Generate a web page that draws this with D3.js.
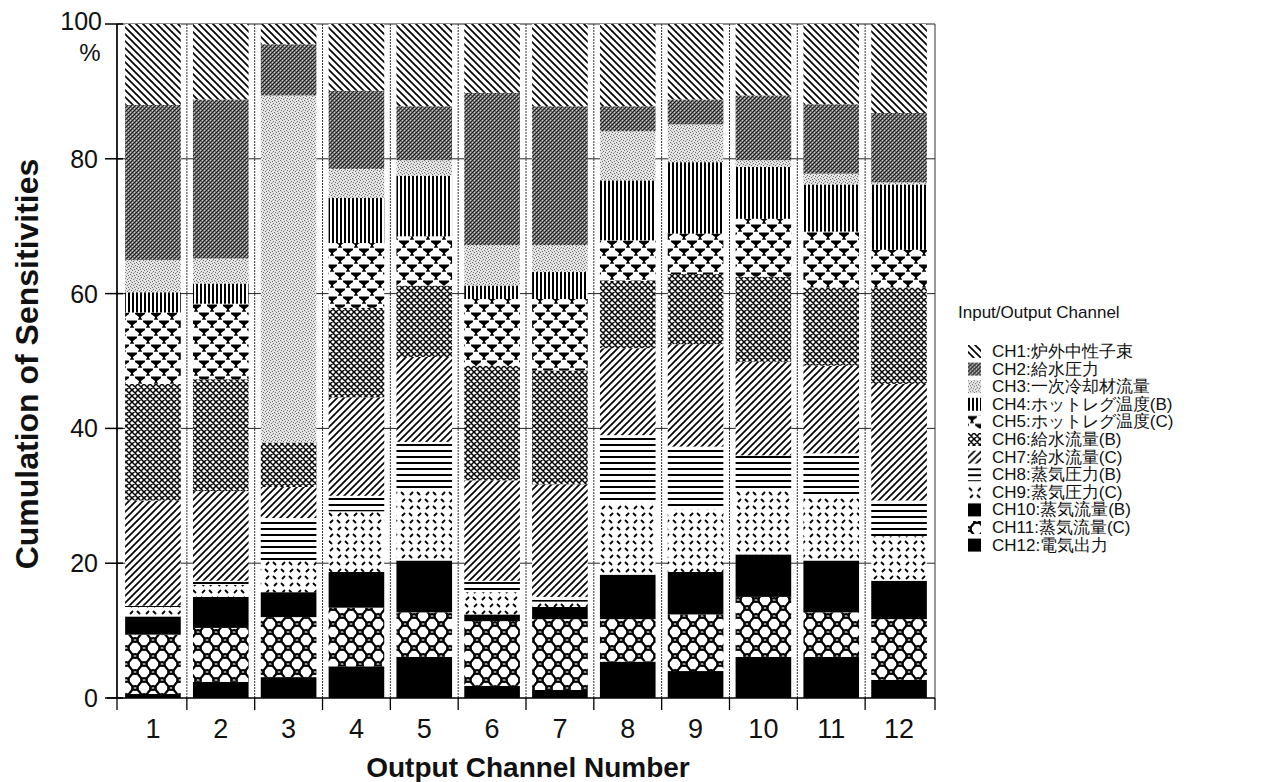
<!DOCTYPE html>
<html>
<head>
<meta charset="utf-8">
<script src="https://cdn.jsdelivr.net/npm/d3@7/dist/d3.min.js"></script>
<style>
  body { margin: 0; background: #fff; }
  svg { display: block; }
  text { font-family: "Liberation Sans", Arial, sans-serif; fill: #111; }
</style>
</head>
<body>
<div id="chart"></div>
<script>
// output channels on the x axis
const outputs = ['1', '2', '3', '4', '5', '6', '7', '8', '9', '10', '11', '12'];

// input channel names (legend), bottom of stack is CH12
const channels = ['CH1', 'CH2', 'CH3', 'CH4', 'CH5', 'CH6', 'CH7', 'CH8', 'CH9', 'CH10', 'CH11', 'CH12'];
const channelNames = ['炉外中性子束', '給水圧力', '一次冷却材流量', 'ホットレグ温度(B)', 'ホットレグ温度(C)',
  '給水流量(B)', '給水流量(C)', '蒸気圧力(B)', '蒸気圧力(C)', '蒸気流量(B)', '蒸気流量(C)', '電気出力'];

// sensitivity share (%) of each input channel, per output channel 1..12
const ch1  = [12.0, 11.2,  3.0,  9.9, 12.2, 10.2, 12.2, 12.2, 11.2, 10.6, 11.9, 13.2];
const ch2  = [23.0, 23.6,  7.6, 11.6,  8.0, 22.6, 20.6,  3.7,  3.7,  9.6, 10.3, 10.3];
const ch3  = [ 4.8,  3.7, 51.5,  4.3,  2.3,  6.0,  4.0,  7.3,  5.6,  1.0,  1.6,  0.3];
const ch4  = [ 3.0,  3.0,  0.0,  6.7,  9.0,  2.0,  4.0,  8.9, 10.6,  7.7,  7.0,  9.7];
const ch5  = [10.6, 11.2,  0.0,  9.6,  7.3,  9.9, 10.6,  6.0,  6.0,  8.6,  8.3,  5.6];
const ch6  = [17.3, 16.6,  6.6, 13.3, 10.6, 17.0, 16.9, 10.0, 10.4, 12.6, 11.6, 14.3];
const ch7  = [15.6, 13.3,  4.6, 14.6, 12.6, 14.9, 16.7, 12.9, 15.2, 13.9, 13.0, 17.3];
const ch8  = [ 0.2,  0.6,  6.3,  2.3,  7.0,  1.7,  0.7, 10.0,  9.3,  5.0,  6.3,  5.3];
const ch9  = [ 1.4,  1.8,  4.7,  9.0, 10.6,  3.3,  0.8, 10.7,  9.3,  9.7,  9.6,  6.6];
const ch10 = [ 2.7,  4.6,  3.7,  5.3,  7.7,  1.0,  1.8,  6.6,  6.3,  6.3,  7.7,  5.7];
const ch11 = [ 8.8,  8.0,  8.9,  8.7,  6.6,  9.6, 10.5,  6.3,  8.4,  8.9,  6.6,  9.0];
const ch12 = [ 0.6,  2.4,  3.1,  4.7,  6.1,  1.8,  1.2,  5.4,  4.0,  6.1,  6.1,  2.7];

const series = [ch1, ch2, ch3, ch4, ch5, ch6, ch7, ch8, ch9, ch10, ch11, ch12];
const yTicks = [0, 20, 40, 60, 80, 100];

const W = 1286, H = 782;
const M = { top: 24, left: 117, right: 935, bottom: 698 };

const svg = d3.select('#chart').append('svg').attr('width', W).attr('height', H);
const defs = svg.append('defs');

// --- fill patterns, one per channel ---
function pat(id, w, h) {
  return defs.append('pattern').attr('id', id).attr('patternUnits', 'userSpaceOnUse')
    .attr('width', w).attr('height', h);
}
function bg(p, w, h, c) { p.append('rect').attr('width', w).attr('height', h).attr('fill', c); }
function px(p, pts, c) {
  pts.forEach(([a, b]) => p.append('rect').attr('x', a).attr('y', b).attr('width', 1).attr('height', 1).attr('fill', c));
}

let p;
// CH1 back diagonal
p = pat('p1', 7, 7); bg(p, 7, 7, '#fff');
p.append('path').attr('d', 'M0,0L7,7M-2,5L2,9M5,-2L9,2').attr('stroke', '#000').attr('stroke-width', 1.7);
// CH2 dark stipple
p = pat('p2', 4, 4); bg(p, 4, 4, '#727272');
px(p, [[0, 0], [2, 2], [1, 3], [3, 1]], '#1e1e1e');
px(p, [[2, 0], [0, 2]], '#cccccc');
// CH3 light stipple
p = pat('p3', 6, 6); bg(p, 6, 6, '#e4e4e4');
px(p, [[0, 0], [3, 1], [1, 3], [4, 4], [2, 5], [5, 2]], '#6e6e6e');
px(p, [[2, 2], [5, 5]], '#aaaaaa');
// CH4 vertical lines
p = pat('p4', 4, 4); bg(p, 4, 4, '#fff');
p.append('rect').attr('x', 0).attr('width', 2).attr('height', 4).attr('fill', '#000');
// CH5 goblet shapes
p = pat('p5', 16, 16); bg(p, 16, 16, '#fff');
const gob = (cx, cy) => `M${cx - 5},${cy}H${cx + 5}V${cy + 1.6}L${cx + 1},${cy + 4.5}V${cy + 6}H${cx + 2}V${cy + 7.3}H${cx - 2}V${cy + 6}H${cx - 1}V${cy + 4.5}L${cx - 5},${cy + 1.6}Z`;
p.append('path').attr('d', [gob(4, 0.5), gob(12, 8.5), gob(-4, 8.5), gob(20, 0.5)].join(''))
  .attr('fill', '#000');
// CH6 crosshatch
p = pat('p6', 6, 6); bg(p, 6, 6, '#fff');
p.append('path').attr('d', 'M0,0L6,6M-1,5L1,7M5,-1L7,1M0,6L6,0M-1,1L1,-1M5,7L7,5')
  .attr('stroke', '#000').attr('stroke-width', 1.5);
// CH7 forward diagonal
p = pat('p7', 7, 7); bg(p, 7, 7, '#fff');
p.append('path').attr('d', 'M0,7L7,0M-2,2L2,-2M5,9L9,5').attr('stroke', '#000').attr('stroke-width', 1.7);
// CH8 horizontal lines
p = pat('p8', 6, 6); bg(p, 6, 6, '#fff');
p.append('rect').attr('y', 0).attr('width', 6).attr('height', 2).attr('fill', '#000');
// CH9 scattered dashes
p = pat('p9', 16, 14); bg(p, 16, 14, '#fff');
p.append('path').attr('d', 'M1,2L4,5M10,5L13,2M9,9L12,12M2,12L5,9')
  .attr('stroke', '#000').attr('stroke-width', 1.8);
// CH10 solid
p = pat('p10', 4, 4); bg(p, 4, 4, '#000');
// CH11 ring chain with diamonds
p = pat('p11', 18, 16); bg(p, 18, 16, '#fff');
[[9, 8], [0, 0], [18, 0], [0, 16], [18, 16]].forEach(([a, b]) => {
  p.append('ellipse').attr('cx', a).attr('cy', b).attr('rx', 6.2).attr('ry', 6.5)
    .attr('fill', 'none').attr('stroke', '#000').attr('stroke-width', 1.8);
});
[[9, 0], [0, 8], [18, 8], [9, 16]].forEach(([a, b]) => {
  p.append('path').attr('d', `M${a},${b - 2.5}L${a + 2.5},${b}L${a},${b + 2.5}L${a - 2.5},${b}Z`)
    .attr('fill', 'none').attr('stroke', '#000').attr('stroke-width', 1.2);
});
// CH12 solid
p = pat('p12', 4, 4); bg(p, 4, 4, '#000');

// --- scales ---
const x = d3.scaleBand().domain(outputs).range([M.left, M.right]).paddingInner(0.18).paddingOuter(0.12);
const y = d3.scaleLinear().domain([0, 100]).range([M.bottom, M.top]);
const gap = (x.step() - x.bandwidth()) / 2;
const bounds = [M.left].concat(outputs.slice(1).map(d => x(d) - gap), [M.right]);

// grid behind bars
const grid = svg.append('g');
grid.selectAll('line.h').data(yTicks.filter(d => d > 0)).join('line')
  .attr('x1', M.left).attr('x2', M.right).attr('y1', d => y(d)).attr('y2', d => y(d))
  .attr('stroke', '#222').attr('stroke-width', 1);
grid.selectAll('line.v').data(bounds).join('line')
  .attr('x1', d => d).attr('x2', d => d).attr('y1', y(100)).attr('y2', M.bottom)
  .attr('stroke', '#333').attr('stroke-width', 1)
  .attr('stroke-dasharray', (d, i) => (i === 0 || i === bounds.length - 1) ? null : '2,1');

// stacked bars: CH12 at bottom
const rows = outputs.map((o, i) => {
  const r = { out: o };
  channels.forEach((c, k) => { r[c] = series[k][i]; });
  return r;
});
const stack = d3.stack().keys(channels.slice().reverse())(rows);

svg.append('g').selectAll('g').data(stack).join('g')
  .attr('fill', d => `url(#p${channels.indexOf(d.key) + 1})`)
  .selectAll('rect').data(d => d).join('rect')
  .attr('x', d => x(d.data.out))
  .attr('width', x.bandwidth())
  .attr('y', d => y(d[1]))
  .attr('height', d => Math.max(0, y(d[0]) - y(d[1])));

// axes
const ax = svg.append('g');
ax.append('line').attr('x1', M.left).attr('x2', M.left).attr('y1', y(100)).attr('y2', M.bottom)
  .attr('stroke', '#000').attr('stroke-width', 1.5);
ax.append('line').attr('x1', M.left - 10).attr('x2', M.right).attr('y1', M.bottom).attr('y2', M.bottom)
  .attr('stroke', '#000').attr('stroke-width', 1.5);
ax.selectAll('line.yt').data(yTicks).join('line')
  .attr('x1', M.left - 12).attr('x2', M.left + 6).attr('y1', d => y(d)).attr('y2', d => y(d))
  .attr('stroke', '#000').attr('stroke-width', 1.5);
ax.selectAll('text.yl').data(yTicks).join('text')
  .attr('x', d => d === 100 ? 102 : 98).attr('y', d => d === 100 ? 30 : y(d) + 9).attr('text-anchor', 'end')
  .attr('font-size', 25).text(d => d);
ax.append('text').attr('x', 90).attr('y', 61).attr('text-anchor', 'middle').attr('font-size', 24).text('%');

ax.selectAll('line.xt').data(bounds).join('line')
  .attr('x1', d => d).attr('x2', d => d).attr('y1', M.bottom).attr('y2', M.bottom + 12)
  .attr('stroke', '#000').attr('stroke-width', 1.3);
ax.selectAll('text.xl').data(outputs).join('text')
  .attr('x', d => x(d) + x.bandwidth() / 2).attr('y', 738).attr('text-anchor', 'middle')
  .attr('font-size', 27).text(d => d);

svg.append('text').attr('x', 528).attr('y', 777).attr('text-anchor', 'middle')
  .attr('font-size', 28).attr('font-weight', 'bold').text('Output Channel Number');
svg.append('text').attr('transform', 'translate(38,364) rotate(-90)').attr('text-anchor', 'middle')
  .attr('font-size', 32).attr('font-weight', 'bold').text('Cumulation of Sensitivities');

// legend
const lg = svg.append('g');
lg.append('text').attr('x', 958).attr('y', 318).attr('font-size', 17).text('Input/Output Channel');
const items = lg.selectAll('g.item').data(channels).join('g')
  .attr('transform', (d, i) => `translate(968,${345 + i * 17.6})`);
items.append('rect').attr('width', 13).attr('height', 13).attr('fill', (d, i) => `url(#p${i + 1})`);
items.append('text').attr('x', 24).attr('y', 12).attr('font-size', 17)
  .attr('font-family', '"Liberation Sans", "Noto Sans CJK JP", sans-serif')
  .text((d, i) => `${d}:${channelNames[i]}`);
</script>
</body>
</html>
